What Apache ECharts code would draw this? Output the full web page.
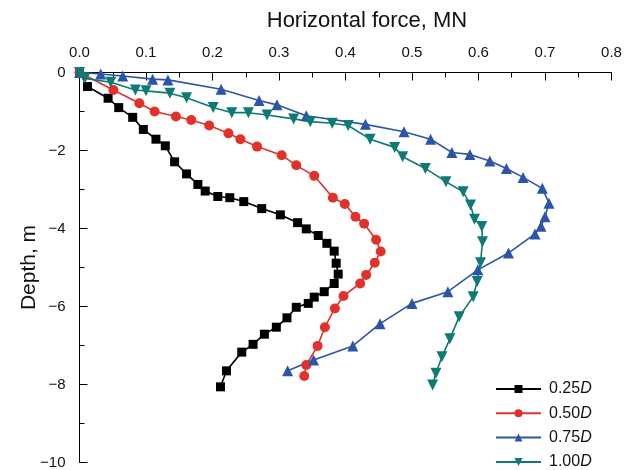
<!DOCTYPE html>
<html>
<head>
<meta charset="utf-8">
<script src="https://cdn.jsdelivr.net/npm/echarts@6/dist/echarts.min.js"></script>
<style>html,body{margin:0;padding:0;background:#fff}#c{width:638px;height:470px}</style>
</head>
<body>
<div id="c"></div>
<script>
var seriesNames = ['0.25D', '0.50D', '0.75D', '1.00D'];
var xTicks = [0, 0.1, 0.2, 0.3, 0.4, 0.5, 0.6, 0.7, 0.8];
var yTicks = [0, -2, -4, -6, -8, -10];

var d025 = [[0,0],[0.012,-0.36],[0.043,-0.66],[0.059,-0.90],[0.080,-1.15],[0.096,-1.46],[0.115,-1.71],[0.129,-1.88],[0.143,-2.29],[0.161,-2.60],[0.178,-2.87],[0.189,-3.04],[0.208,-3.18],[0.226,-3.21],[0.247,-3.31],[0.274,-3.49],[0.302,-3.65],[0.328,-3.85],[0.341,-4.01],[0.359,-4.18],[0.372,-4.38],[0.383,-4.58],[0.386,-4.89],[0.389,-5.17],[0.383,-5.41],[0.368,-5.62],[0.353,-5.76],[0.344,-5.92],[0.326,-6.02],[0.312,-6.29],[0.296,-6.53],[0.278,-6.71],[0.261,-6.97],[0.244,-7.17],[0.221,-7.65],[0.212,-8.06]];
var d050 = [[0,0],[0.051,-0.45],[0.090,-0.79],[0.113,-1.00],[0.145,-1.13],[0.168,-1.22],[0.195,-1.36],[0.224,-1.56],[0.242,-1.71],[0.267,-1.90],[0.304,-2.12],[0.326,-2.38],[0.353,-2.65],[0.381,-3.21],[0.399,-3.37],[0.415,-3.70],[0.428,-3.88],[0.446,-4.29],[0.453,-4.59],[0.444,-4.88],[0.431,-5.19],[0.422,-5.41],[0.397,-5.73],[0.384,-6.05],[0.369,-6.53],[0.358,-7.01],[0.341,-7.50],[0.338,-7.78]];
var d075 = [[0,0],[0.032,-0.04],[0.065,-0.09],[0.110,-0.17],[0.133,-0.19],[0.213,-0.43],[0.270,-0.72],[0.297,-0.83],[0.341,-1.11],[0.430,-1.33],[0.488,-1.52],[0.528,-1.71],[0.560,-2.05],[0.587,-2.10],[0.617,-2.27],[0.642,-2.46],[0.667,-2.69],[0.696,-2.97],[0.706,-3.35],[0.700,-3.70],[0.694,-3.94],[0.685,-4.14],[0.645,-4.63],[0.599,-5.06],[0.554,-5.62],[0.500,-5.92],[0.452,-6.44],[0.411,-7.01],[0.352,-7.37],[0.313,-7.65]];
var d100 = [[0,0],[0.008,-0.15],[0.047,-0.25],[0.084,-0.45],[0.100,-0.47],[0.136,-0.53],[0.161,-0.65],[0.201,-0.90],[0.229,-1.03],[0.254,-1.03],[0.282,-1.09],[0.322,-1.19],[0.347,-1.26],[0.380,-1.30],[0.404,-1.36],[0.437,-1.71],[0.474,-1.92],[0.486,-2.16],[0.520,-2.46],[0.551,-2.80],[0.577,-3.06],[0.588,-3.40],[0.594,-3.76],[0.605,-3.95],[0.606,-4.34],[0.603,-4.88],[0.598,-5.36],[0.592,-5.75],[0.571,-6.26],[0.557,-6.83],[0.545,-7.29],[0.536,-7.71],[0.531,-8.01]];

var colors = ['#000000', '#e0322a', '#2a55a8', '#0d7b73'];
var symbols = ['rect', 'circle', 'triangle', 'triangle'];
var rotates = [0, 0, 0, 180];
var sizes = [9, 10, 11, 11];
var datasets = [d025, d050, d075, d100];

var font = 'Liberation Sans, Arial, sans-serif';
var chart = echarts.init(document.getElementById('c'), null, {renderer: 'canvas'});

var series = datasets.map(function (d, i) {
  return {
    name: seriesNames[i],
    type: 'line',
    data: d,
    symbol: symbols[i],
    symbolSize: sizes[i],
    symbolRotate: rotates[i],
    lineStyle: {color: colors[i], width: 1.6},
    itemStyle: {color: colors[i]},
    animation: false
  };
});

chart.setOption({
  animation: false,
  grid: {left: 79.5, top: 72.5, right: 26.5, bottom: 7.5, containLabel: false},
  graphic: [{
    type: 'text', x: 367, y: 21,
    style: {text: 'Horizontal force, MN', font: '22px ' + font, fill: '#111', align: 'center', verticalAlign: 'middle'}
  }],
  legend: {
    orient: 'vertical',
    left: 495, top: 381, height: 120, padding: 0,
    itemWidth: 45, itemHeight: 10, itemGap: 8.3,
    data: seriesNames,
    formatter: function (n) { return '{a|' + n.slice(0, -1) + '}{b|D}'; },
    textStyle: {
      fontFamily: font, fontSize: 16, color: '#111', padding: [0, 0, 0, 3],
      rich: {a: {fontFamily: font, fontSize: 16, color: '#111', height: 18}, b: {fontFamily: font, fontSize: 16, fontStyle: 'italic', color: '#111', height: 18}}
    }
  },
  xAxis: {
    type: 'value', position: 'top', min: 0, max: 0.8, interval: 0.1,
    axisLine: {show: true, lineStyle: {color: '#000', width: 1}},
    axisTick: {show: true, inside: true, length: 8, lineStyle: {color: '#000'}},
    minorTick: {show: true, splitNumber: 2, length: 5, lineStyle: {color: '#000'}},
    splitLine: {show: false},
    axisLabel: {margin: 12, fontFamily: font, fontSize: 15, color: '#111',
      formatter: function (v) { return v.toFixed(1); }}
  },
  yAxis: {
    type: 'value', min: -10, max: 0, interval: 2,
    name: 'Depth, m', nameLocation: 'middle', nameGap: 40, nameRotate: 90, nameMoveOverlap: false,
    nameTextStyle: {fontFamily: font, fontSize: 21, color: '#111'},
    axisLine: {show: true, lineStyle: {color: '#000', width: 1}},
    axisTick: {show: true, inside: true, length: 8, lineStyle: {color: '#000'}},
    minorTick: {show: true, splitNumber: 2, length: 5, lineStyle: {color: '#000'}},
    splitLine: {show: false},
    axisLabel: {margin: 14, fontFamily: font, fontSize: 15, color: '#111',
      formatter: function (v) { return v === 0 ? '0' : String(v).replace('-', '\u2212'); }}
  },
  series: series
});
</script>
</body>
</html>
